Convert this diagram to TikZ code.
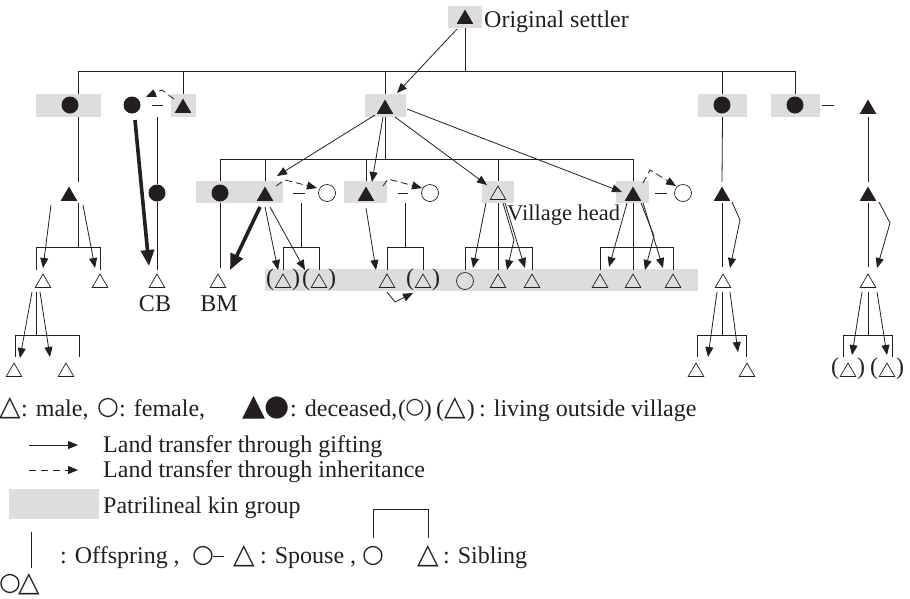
\documentclass[tikz,border=0pt]{standalone}
\usepackage{fontspec}
\setmainfont{Liberation Serif}
\newfontfamily\symf{DejaVu Sans}
\usetikzlibrary{shapes.geometric,arrows.meta,calc}
\definecolor{kin}{RGB}{220,221,223}
\definecolor{ink}{RGB}{35,31,32}
% symbols used in the legend text
\newcommand{\otrisym}{{\symf\fontsize{28}{28}\selectfont △}}
\newcommand{\ocircsym}{{\symf\fontsize{25}{25}\selectfont ○}}
\newcommand{\ocircsmall}{{\symf\fontsize{22}{22}\selectfont ○}}
\newcommand{\ftrisym}{{\symf\fontsize{30}{30}\selectfont ▲}}
\newcommand{\fcircsym}{{\symf\fontsize{29}{29}\selectfont ●}}
\tikzset{
  kinbox/.style={rectangle, fill=kin, inner sep=0pt, outer sep=0pt},
  ftri/.style={regular polygon, regular polygon sides=3, fill=ink, inner sep=0pt, minimum size=19pt},
  otri/.style={regular polygon, regular polygon sides=3, draw=ink, line width=0.7pt, inner sep=0pt, minimum size=18pt},
  fcirc/.style={circle, fill=ink, inner sep=0pt, minimum size=17pt},
  ocirc/.style={circle, draw=ink, line width=0.7pt, inner sep=0pt, minimum size=17pt},
  rel/.style={draw=ink, line width=0.8pt},
  gift/.style={draw=ink, line width=0.8pt, -{Triangle[length=10pt,width=8pt]}},
  heir/.style={gift, dash pattern=on 7pt off 4pt},
  bulk/.style={draw=ink, line width=3.6pt, -{Triangle[length=16pt,width=13pt]}},
  lbl/.style={inner sep=0pt, anchor=base west, text=ink},
  sym/.style={inner sep=0pt, text=ink},
  paren/.style={inner sep=0pt, text=ink},
}
\begin{document}
\begin{tikzpicture}[x=1pt, y=-1pt, font=\fontsize{24}{28}\selectfont]
\useasboundingbox (0,0) rectangle (910,598);

% ---- patrilineal kin groups (grey bands)
\node[kinbox, minimum width=34pt, minimum height=22pt] (bS)  at (465,17) {};
\node[kinbox, minimum width=65pt, minimum height=23pt] (b1a) at (68.5,105.5) {};
\node[kinbox, minimum width=25pt, minimum height=23pt] (b1c) at (183.5,105.5) {};
\node[kinbox, minimum width=41pt, minimum height=23pt] (b1d) at (385.5,105.5) {};
\node[kinbox, minimum width=49pt, minimum height=23pt] (b1e) at (722.5,105.5) {};
\node[kinbox, minimum width=49pt, minimum height=23pt] (b1f) at (795.5,105.5) {};
\node[kinbox, minimum width=87pt, minimum height=22pt] (bA)  at (239.5,192) {};
\node[kinbox, minimum width=43pt, minimum height=22pt] (bB)  at (365.5,192) {};
\node[kinbox, minimum width=32pt, minimum height=22pt] (bC)  at (498,192) {};
\node[kinbox, minimum width=33pt, minimum height=22pt] (bD)  at (632.5,192) {};
\node[kinbox, minimum width=433pt, minimum height=22pt] (band) at (481.5,280) {};

% ---- people
\node[ftri] (S) at (465,19) {};
\node[lbl] (St) at (484,27) {Original settler};

\node[fcirc] (P1) at (70,105) {};
\node[fcirc] (P2) at (132,105) {};
\node[ftri]  (P3) at (183,108) {};
\node[ftri]  (H)  at (385,109) {};
\node[fcirc] (P5) at (722,105) {};
\node[fcirc] (P6) at (795,105) {};
\node[ftri]  (P7) at (868,109) {};

\node[ftri]  (Q1) at (69,196) {};
\node[fcirc] (Q2) at (157,193) {};
\node[fcirc] (A1) at (220,193) {};
\node[ftri]  (A2) at (265,196) {};
\node[ocirc] (A3) at (327,193) {};
\node[ftri]  (B1) at (366,196) {};
\node[ocirc] (B2) at (430,193) {};
\node[otri]  (C1) at (498,195) {};
\node[ftri]  (D1) at (633,196) {};
\node[ocirc] (D2) at (683,193) {};
\node[ftri]  (E2) at (722,196) {};
\node[ftri]  (F2) at (868,196) {};
\node[lbl, font=\fontsize{22.5}{26}\selectfont] (VH) at (507,220) {Village head};

\node[otri]  (R1) at (43,283) {};
\node[otri]  (R2) at (100,283) {};
\node[otri]  (CB) at (157,283) {};
\node[otri]  (BM) at (218,283) {};
\node[inner sep=0pt, anchor=base, text=ink] (CBt) at (155,311) {CB};
\node[inner sep=0pt, anchor=base, text=ink] (BMt) at (219,311) {BM};
\node[otri]  (A4) at (283,283) {};
\node[otri]  (A5) at (319,283) {};
\node[otri]  (B3) at (387,283) {};
\node[otri]  (B4) at (423,283) {};
\node[ocirc] (C2) at (465,281) {};
\node[otri]  (C3) at (498,283) {};
\node[otri]  (C4) at (532,283) {};
\node[otri]  (D3) at (600,283) {};
\node[otri]  (D4) at (633,283) {};
\node[otri]  (D5) at (673,283) {};
\node[otri]  (E3) at (723,283) {};
\node[otri]  (F3) at (868,283) {};

\node[otri]  (T1) at (14,372) {};
\node[otri]  (T2) at (66,372) {};
\node[otri]  (E4) at (696,372) {};
\node[otri]  (E5) at (747,372) {};
\node[otri]  (F4) at (848,372) {};
\node[otri]  (F5) at (887,372) {};

% brackets for members living outside the village
\node[paren] (A4l) at ($(A4)+(-13,-3)$) {(};
\node[paren] (A4r) at ($(A4)+(13,-3)$) {)};
\node[paren] (A5l) at ($(A5)+(-13,-3)$) {(};
\node[paren] (A5r) at ($(A5)+(13,-3)$) {)};
\node[paren] (B4l) at ($(B4)+(-13,-3)$) {(};
\node[paren] (B4r) at ($(B4)+(13,-3)$) {)};
\node[paren] (F4l) at ($(F4)+(-13,-3)$) {(};
\node[paren] (F4r) at ($(F4)+(13,-3)$) {)};
\node[paren] (F5l) at ($(F5)+(-13,-3)$) {(};
\node[paren] (F5r) at ($(F5)+(13,-3)$) {)};

% ---- kinship lines
\coordinate (bar1) at (0,71);
\coordinate (bar2) at (0,159);
\draw[rel] ([xshift=9.5pt]b1a.north) -- ([xshift=9.5pt]b1a.north |- bar1) -- (b1f.north |- bar1) -- (b1f.north);
\draw[rel] (b1c.north) -- (b1c.north |- bar1);
\draw[rel] (b1d.north) -- (b1d.north |- bar1);
\draw[rel] (bS.south) -- (bS.south |- bar1);
\draw[rel] (b1e.north) -- (b1e.north |- bar1);

\draw[rel] (b1d.south) -- (b1d.south |- bar2);
\draw[rel] (A1 |- bA.north) -- (A1 |- bar2) -- (D1 |- bar2) -- (D1 |- bD.north);
\draw[rel] (A2 |- bA.north) -- (A2 |- bar2);
\draw[rel] (B1 |- bB.north) -- (B1 |- bar2);
\draw[rel] (C1 |- bC.north) -- (C1 |- bar2);

% left line
\draw[rel] ([xshift=9.5pt]b1a.south) -- ($(Q1)+(9,-14)$);
\draw[rel] ($(Q1)+(9,7)$) -- ($(Q1)+(9,51)$);
\draw[rel] ($(R1)+(-7,-13)$) -- ($(R1)+(-7,-36)$) -- ($(R2)+(0,-36)$) -- ($(R2)+(0,-13)$);
\draw[rel] ($(R1)+(-7,9)$) -- ($(R1)+(-7,52)$);
\draw[rel] ($(T1)+(1,-15)$) -- ($(T1)+(1,-37)$) -- ($(T2)+(13,-37)$) -- ($(T2)+(13,-15)$);

% spouse pair P2 - P3
\draw[rel] ($(P2)+(20,0)$) -- ($(P2)+(31,0)$);
\draw[rel] ($(P2)+(25,12)$) -- (Q2.north);
\draw[rel] (Q2.south) -- ($(CB)+(0,-13)$);

% group A
\draw[rel] (A1 |- bA.south) -- ($(BM)+(2,-15)$);
\draw[rel] ($(A2)+(28,-3)$) -- ($(A2)+(40,-3)$);
\draw[rel] ($(A2)+(36,7)$) -- ($(A2)+(36,51)$);
\draw[rel] ($(A4)+(0,-13)$) -- ($(A4)+(0,-36)$) -- ($(A5)+(0,-36)$) -- ($(A5)+(0,-13)$);

% group B
\draw[rel] ($(B1)+(32,-3)$) -- ($(B1)+(42,-3)$);
\draw[rel] ($(B1)+(39,7)$) -- ($(B1)+(39,51)$);
\draw[rel] ($(B3)+(0,-13)$) -- ($(B3)+(0,-36)$) -- ($(B4)+(0,-36)$) -- ($(B4)+(0,-13)$);

% group C
\draw[rel] (C1 |- bC.south) -- ($(C3)+(0,-13)$);
\draw[rel] ($(C2)+(0,-11)$) -- ($(C2)+(0,-34)$) -- ($(C4)+(0,-36)$) -- ($(C4)+(0,-13)$);

% group D
\draw[rel] ($(D1)+(22,-3)$) -- ($(D1)+(34,-3)$);
\draw[rel] (D1 |- bD.south) -- ($(D4)+(0,-13)$);
\draw[rel] ($(D3)+(0,-13)$) -- ($(D3)+(0,-36)$) -- ($(D5)+(0,-36)$) -- ($(D5)+(0,-13)$);

% line E
\draw[rel] (b1e.south) -- ($(E2)+(0,-14)$);
\draw[rel] ($(E2)+(0,7)$) -- ($(E3)+(-1,-16)$);
\draw[rel] ($(E3)+(-1,9)$) -- ($(E3)+(-1,52)$);
\draw[rel] ($(E4)+(1,-15)$) -- ($(E4)+(1,-37)$) -- ($(E5)+(-1,-37)$) -- ($(E5)+(-1,-15)$);

% line F
\draw[rel] ($(P6)+(27,0)$) -- ($(P6)+(39,0)$);
\draw[rel] ($(P7)+(0,8)$) -- ($(F2)+(0,-14)$);
\draw[rel] ($(F2)+(0,7)$) -- ($(F3)+(0,-16)$);
\draw[rel] ($(F3)+(0,9)$) -- ($(F3)+(0,52)$);
\draw[rel] ($(F4)+(-5,-15)$) -- ($(F4)+(-5,-37)$) -- ($(F5)+(5,-37)$) -- ($(F5)+(5,-15)$);

% ---- land transfers through gifting
\draw[gift] ($(S)+(-8,10)$) -- ($(H)+(12,-16)$);
\draw[gift] ($(H)+(-10,6)$) -- ($(A2)+(12,-20)$);
\draw[gift] ($(H)+(-2,8)$) -- ($(B1)+(6,-14)$);
\draw[gift] ($(H)+(10,8)$) -- ($(C1)+(-11,-10)$);
\draw[gift] ($(H)+(22,0)$) -- ($(D1)+(-11,-4)$);

\draw[gift] ($(Q1)+(-18,9)$) -- ($(R1)+(0,-15)$);
\draw[gift] ($(Q1)+(14,9)$) -- ($(R2)+(-5,-15)$);
\draw[gift] ($(R1)+(-11,9)$) -- ($(T1)+(6,-14)$);
\draw[gift] ($(R1)+(-3,9)$) -- ($(T2)+(-16,-15)$);

\draw[bulk] ($(P2)+(3,15)$) -- ($(CB)+(-8,-17)$);
\draw[bulk] ($(A2)+(-5,11)$) -- ($(BM)+(12,-13)$);

\draw[gift] ($(A2)+(0,11)$) -- ($(A4)+(-5,-13)$);
\draw[gift] ($(A2)+(5,11)$) -- ($(A5)+(-14,-13)$);

\draw[gift] ($(B1)+(0,12)$) -- ($(B3)+(-11,-13)$);
\draw[gift] ($(B3)+(0,9)$) -- ($(B3)+(8,19)$) -- ($(B4)+(-10,10)$);

\coordinate (cbr) at ($(C1)+(16,45)$);
\draw[gift] ($(C1)+(-12,8)$) -- ($(C2)+(8,-13)$);
\draw[gift] ($(C1)+(7,8)$) -- ($(C4)+(-7,-15)$);
\draw[gift] ($(C1)+(5,8)$) -- (cbr) -- ($(C3)+(9,-13)$);

\coordinate (dbr) at ($(D1)+(21,40)$);
\draw[gift] ($(D1)+(-6,7)$) -- ($(D3)+(9,-16)$);
\draw[gift] ($(D1)+(10,7)$) -- ($(D5)+(-10,-15)$);
\draw[gift] ($(D1)+(8,7)$) -- (dbr) -- ($(D4)+(12,-13)$);

\draw[gift] ($(E2)+(10,6)$) -- ($(E2)+(18,24)$) -- ($(E3)+(7,-15)$);
\draw[gift] ($(E3)+(-6,9)$) -- ($(E4)+(12,-15)$);
\draw[gift] ($(E3)+(7,9)$) -- ($(E5)+(-9,-20)$);

\draw[gift] ($(F2)+(11,6)$) -- ($(F2)+(22,27)$) -- ($(F3)+(9,-15)$);
\draw[gift] ($(F3)+(-6,9)$) -- ($(F4)+(4,-17)$);
\draw[gift] ($(F3)+(9,9)$) -- ($(F5)+(0,-17)$);

% ---- land transfers through inheritance
\draw[heir] ($(P3)+(-9,-9)$) -- ($(P3)+(-21,-18)$) -- ($(P2)+(14,-8)$);
\draw[heir] ($(A2)+(11,-10)$) -- ($(A2)+(20,-16)$) -- ($(A3)+(-10,-5)$);
\draw[heir] ($(B1)+(17,-10)$) -- ($(B1)+(22,-17)$) -- ($(B2)+(-8,-5)$);
\draw[heir] ($(D1)+(10,-13)$) -- ($(D1)+(17,-26)$) -- ($(D2)+(-7,-7)$);

% ---- legend, first row
\node[sym] (m1) at (10,408) {\otrisym};
\node[lbl] (m1t) at (21,416) {: male,};
\node[sym] (m2) at (108,408) {\ocircsym};
\node[lbl] (m2t) at (119,416) {: female,};
\node[sym] (m3) at (254,408) {\ftrisym};
\node[sym] (m4) at (277,408) {\fcircsym};
\node[lbl] (m3t) at (290,416) {: deceased,};
\node[lbl] (m5l) at (398,416) {(};
\node[sym] (m5) at (415,408) {\ocircsmall};
\node[paren, anchor=base east] (m5r) at (432,416) {)};
\node[lbl] (m6l) at (436,416) {(};
\node[sym] (m6) at (455,408) {\otrisym};
\node[paren, anchor=base east] (m6r) at (475,416) {)};
\node[lbl] (m6t) at (479,416) {: living outside village};

% transfer keys
\coordinate (g0) at (29,445);
\coordinate (g1) at (78,445);
\draw[gift] (g0) -- (g1);
\node[lbl] (k2) at (103,452) {Land transfer through gifting};

\coordinate (h0) at (29,470);
\coordinate (h1) at (78,470);
\draw[heir, dash pattern=on 7pt off 5pt] (h0) -- (h1);
\node[lbl] (k3) at (103,477) {Land transfer through inheritance};

\node[kinbox, minimum width=90pt, minimum height=30pt] (kbox) at (54,504) {};
\node[lbl] (k4) at (103,513) {Patrilineal kin group};

% relation keys
\coordinate (o0) at (31,532);
\coordinate (o1) at (31,568);
\draw[rel] (o0) -- (o1);
\node[lbl] (k5) at (60,563) {: Offspring ,};
\node[sym] (sp1) at (203,556) {\ocircsym};
\node[sym] (sp2) at (244,556) {\otrisym};
\draw[rel] ($(sp1)+(10,0)$) -- ($(sp1)+(21,0)$);
\node[lbl] (k5b) at (260,563) {: Spouse ,};
\node[sym] (sb1) at (373,556) {\ocircsym};
\node[sym] (sb2) at (428,556) {\otrisym};
\node[lbl] (k6) at (443,563) {: Sibling};
\draw[rel] ($(sb1)+(0,-18)$) -- ($(sb1)+(0,-47)$) -- ($(sb2)+(0,-47)$) -- ($(sb2)+(0,-18)$);

\node[sym] (k7a) at (10,584) {\ocircsym};
\node[sym] (k7b) at (29,584) {\otrisym};
\end{tikzpicture}
\end{document}
